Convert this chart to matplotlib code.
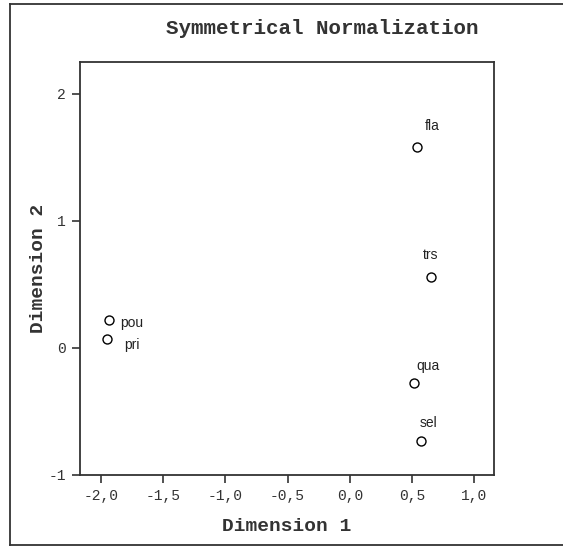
import matplotlib
matplotlib.use("Agg")
import matplotlib.pyplot as plt
from matplotlib.lines import Line2D
from matplotlib.ticker import FixedLocator, FuncFormatter

# Data
labels = ["fla", "trs", "qua", "sel", "pou", "pri"]
dim1 = [0.54, 0.65, 0.52, 0.57, -1.94, -1.95]
dim2 = [1.58, 0.555, -0.275, -0.733, 0.22, 0.07]
label_offsets = [(15, 21), (0, 22), (14, 17), (8, 18), (23, -3), (25, -6)]
xticks = [-2.0, -1.5, -1.0, -0.5, 0.0, 0.5, 1.0]
yticks = [-1, 0, 1, 2]

W, H = 563, 546
fig = plt.figure(figsize=(W / 100, H / 100), dpi=100)

# axes placement in pixels
left, right, top, bottom = 80, 494, 62, 475
ax = fig.add_axes([left / W, 1 - bottom / H, (right - left) / W, (bottom - top) / H])

ax.scatter(dim1, dim2, s=42, facecolors="white", edgecolors="black", linewidths=1.0, zorder=3)
for lab, x, y, (dx, dy) in zip(labels, dim1, dim2, label_offsets):
    ax.annotate(lab, (x, y), xytext=(dx * 0.72, dy * 0.72), textcoords="offset points",
                ha="center", va="center", fontsize=10, family="Liberation Sans", color="#222222")

ax.set_xlim(-2.17, 1.16)
ax.set_ylim(-1.0, 2.25)
ax.xaxis.set_major_locator(FixedLocator(xticks))
ax.yaxis.set_major_locator(FixedLocator(yticks))
ax.xaxis.set_major_formatter(FuncFormatter(lambda v, p: f"{v:.1f}".replace(".", ",")))
ax.yaxis.set_major_formatter(FuncFormatter(lambda v, p: f"{int(round(v))}"))
ax.tick_params(direction="out", length=6, width=1.2, color="#333333", labelsize=10.5,
               labelcolor="#333333", pad=4)
for t in ax.get_xticklabels() + ax.get_yticklabels():
    t.set_family("Liberation Mono")
for sp in ax.spines.values():
    sp.set_linewidth(1.3)
    sp.set_color("#333333")

ax.set_xlabel("Dimension 1", family="Liberation Mono", fontweight="bold", fontsize=14,
              color="#333333", labelpad=11)
ax.set_ylabel("Dimension 2", family="Liberation Mono", fontweight="bold", fontsize=14,
              color="#333333", labelpad=1)

fig.text(322 / W, 1 - 28 / H, "Symmetrical Normalization", family="Liberation Mono",
         fontsize=15, fontweight="bold", color="#333333", ha="center", va="center")

# outer frame (left, top, bottom)
fx0, fy_top, fy_bot = 10 / W, 1 - 4 / H, 1 - 545 / H
fig.add_artist(Line2D([fx0, 1], [fy_top, fy_top], color="#333333", lw=1.3, transform=fig.transFigure))
fig.add_artist(Line2D([fx0, 1], [fy_bot, fy_bot], color="#333333", lw=1.3, transform=fig.transFigure))
fig.add_artist(Line2D([fx0, fx0], [fy_bot, fy_top], color="#333333", lw=1.3, transform=fig.transFigure))

fig.savefig("out.png", dpi=100)
